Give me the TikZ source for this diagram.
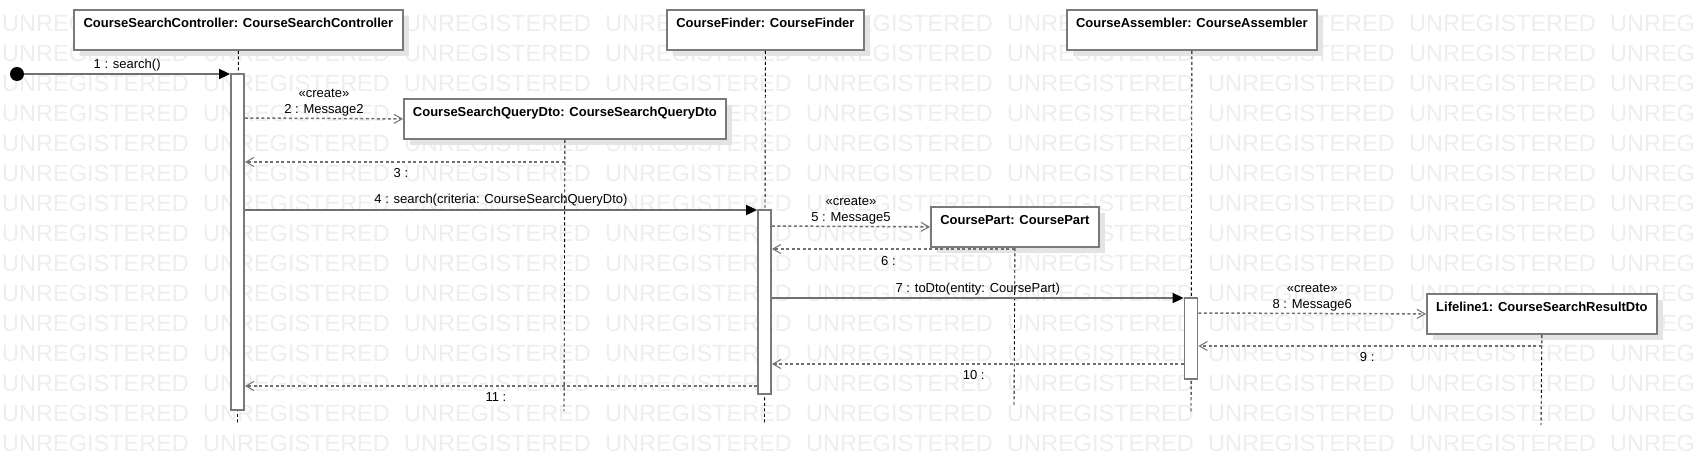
\documentclass[tikz,border=0pt]{standalone}
\usepackage{fontspec}
\setmainfont{Liberation Sans}
\usetikzlibrary{arrows.meta,shadows}
\definecolor{bordergray}{HTML}{7A7A7A}
\definecolor{linegray}{HTML}{707070}
\definecolor{wmgray}{HTML}{EEEEEE}
\definecolor{shadowgray}{HTML}{E4E4E4}
\newcommand\wmword{\makebox[201pt][l]{UNREGISTERED}}
\newcommand\wmrow{\wmword\wmword\wmword\wmword\wmword\wmword\wmword\wmword\makebox[90pt][l]{UNREG}}
\begin{document}
\begin{tikzpicture}[x=1pt,y=-1pt,
  every node/.style={font=\fontsize{13}{15}\selectfont},
  wm/.style={font=\fontsize{23.5}{26}\selectfont, text=wmgray, inner sep=0pt, anchor=base west},
  objbox/.style={draw=bordergray, line width=1.8pt, fill=white, inner xsep=0pt, inner ysep=0pt,
    text height=18pt, text depth=22pt, font=\bfseries\fontsize{13}{15}\selectfont, anchor=north west,
    drop shadow={shadow xshift=6pt, shadow yshift=-6pt, fill=shadowgray, opacity=1}},
  actbar/.style={draw=bordergray, line width=1.8pt, fill=white, minimum width=13pt, inner sep=0pt, anchor=north},
  lifeline/.style={draw=black, line width=0.9pt, dash pattern=on 3pt off 2.5pt},
  startdot/.style={circle, fill=black, minimum size=14pt, inner sep=0pt},
  syncmsg/.style={draw=linegray, line width=1.8pt, -{Triangle[length=11pt,width=10pt,color=black,fill=black]}},
  createmsg/.style={draw=linegray, line width=1.5pt, dash pattern=on 3pt off 2.5pt, -{Straight Barb[length=8pt,width=9pt,line width=1pt]}},
  retmsg/.style={draw=linegray, line width=1.5pt, dash pattern=on 3pt off 2.5pt, -{Straight Barb[length=8pt,width=9pt,line width=1pt]}},
  lab/.style={anchor=base, inner sep=0pt}
]
\useasboundingbox (0,0) rectangle (1695,466);
\fill[white] (0,0) rectangle (1695,466);
% watermark
\begin{scope}
\clip (0,0) rectangle (1695,466);
\foreach \k in {0,...,14} {
  \node[wm] (wm\k) at (2, 31.5+30*\k) {\wmrow};
}
\end{scope}

% objects
\node[objbox, minimum width=329pt] (csc) at (73,9) {CourseSearchController: CourseSearchController};
\node[objbox, minimum width=197pt] (finder) at (666,9) {CourseFinder: CourseFinder};
\node[objbox, minimum width=250pt] (asm) at (1066,9) {CourseAssembler: CourseAssembler};
\node[objbox, minimum width=322pt] (qdto) at (403,98) {CourseSearchQueryDto: CourseSearchQueryDto};
\node[objbox, minimum width=168pt] (cpart) at (930,206) {CoursePart: CoursePart};
\node[objbox, minimum width=230pt] (lf1) at (1426,293) {Lifeline1: CourseSearchResultDto};

% lifelines
\coordinate (cscend) at (237.5,423);
\coordinate (qdtoend) at (564,411);
\coordinate (finderend) at (764.5,424);
\coordinate (cpartend) at (1014,405);
\coordinate (asmend) at (1191,413);
\coordinate (lf1end) at (1541,425);
\draw[lifeline] (csc.south) -- (cscend);
\draw[lifeline] (qdto.south) -- (qdtoend);
\draw[lifeline] (finder.south) -- (finderend);
\draw[lifeline] (cpart.south) -- (cpartend);
\draw[lifeline] (asm.south) -- (asmend);
\draw[lifeline] (lf1.south) -- (lf1end);

% activation bars
\node[actbar, minimum height=336pt] (cbar) at (237.5,73) {};
\node[actbar, minimum height=184pt] (fbar) at (764.5,209) {};
\node[actbar, minimum height=81pt] (abar) at (1191,297) {};

% message levels
\coordinate (m2) at (0,118);
\coordinate (m3) at (0,162);
\coordinate (m4) at (0,210);
\coordinate (m5) at (0,226);
\coordinate (m6) at (0,249);
\coordinate (m7) at (0,298);
\coordinate (m8) at (0,313);
\coordinate (m9) at (0,346);
\coordinate (m10) at (0,364);
\coordinate (m11) at (0,386);

\node[startdot] (start) at (17,74) {};
\draw[syncmsg] (start) -- (cbar.west |- start)
  node[lab, midway, yshift=6pt] (l1) {1 : search()};
\draw[createmsg] (cbar.east |- m2) -- (qdto.west)
  node[lab, midway, yshift=5pt] (l2) {2 : Message2}
  node[lab, midway, yshift=20.5pt] (s2) {«create»};
\draw[retmsg] (qdto.south |- m3) -- (cbar.east |- m3)
  node[lab, midway, yshift=-15pt, xshift=-4pt] (l3) {3 :};
\draw[syncmsg] (cbar.east |- m4) -- (fbar.west |- m4)
  node[lab, midway, yshift=7pt] (l4) {4 : search(criteria: CourseSearchQueryDto)};
\draw[createmsg] (fbar.east |- m5) -- (cpart.west)
  node[lab, midway, yshift=5pt] (l5) {5 : Message5}
  node[lab, midway, yshift=20.5pt] (s5) {«create»};
\draw[retmsg] (cpart.south |- m6) -- (fbar.east |- m6)
  node[lab, midway, yshift=-16pt, xshift=-5pt] (l6) {6 :};
\draw[syncmsg] (fbar.east |- m7) -- (abar.west |- m7)
  node[lab, midway, yshift=6pt] (l7) {7 : toDto(entity: CoursePart)};
\draw[createmsg] (abar.east |- m8) -- (lf1.west)
  node[lab, midway, yshift=5pt] (l8) {8 : Message6}
  node[lab, midway, yshift=20.5pt] (s8) {«create»};
\draw[retmsg] (lf1.south |- m9) -- (abar.east |- m9)
  node[lab, midway, yshift=-15pt, xshift=-3pt] (l9) {9 :};
\draw[retmsg] (abar.west |- m10) -- (fbar.east |- m10)
  node[lab, midway, yshift=-15pt, xshift=-4pt] (l10) {10 :};
\draw[retmsg] (fbar.west |- m11) -- (cbar.east |- m11)
  node[lab, midway, yshift=-15pt, xshift=-5pt] (l11) {11 :};
\end{tikzpicture}
\end{document}
